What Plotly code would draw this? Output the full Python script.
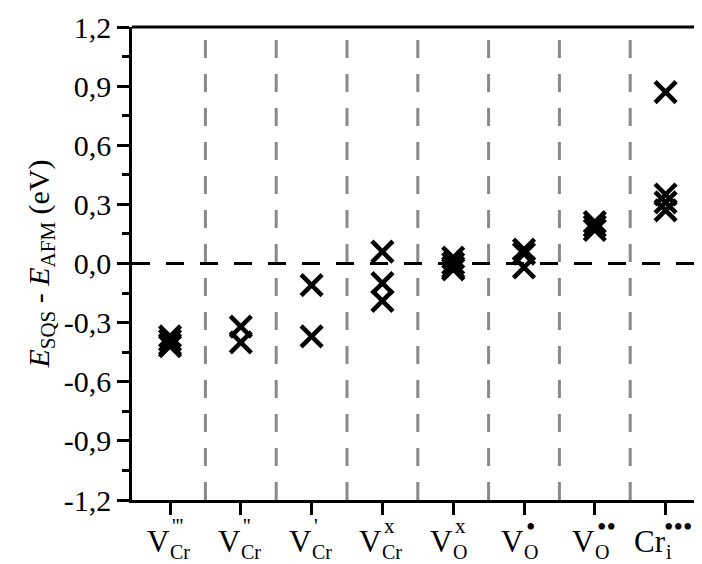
import plotly.graph_objects as go

# Data
categories = ["V_Cr'''", "V_Cr''", "V_Cr'", "V_Cr^x", "V_O^x", "V_O^•", "V_O^••", "Cr_i^•••"]
cat_base = ["V", "V", "V", "V", "V", "V", "V", "Cr"]
cat_sub = ["Cr", "Cr", "Cr", "Cr", "O", "O", "O", "i"]
cat_sup = ["'''", "''", "'", "x", "x", "•", "••", "•••"]
values = [
    [-0.37, -0.39, -0.41, -0.42],
    [-0.32, -0.40],
    [-0.11, -0.37],
    [0.06, -0.10, -0.19],
    [0.03, 0.0, -0.02, -0.03],
    [0.07, 0.05, -0.02],
    [0.21, 0.19, 0.17],
    [0.87, 0.35, 0.31, 0.27],
]
y_ticks = [-1.2, -0.9, -0.6, -0.3, 0.0, 0.3, 0.6, 0.9, 1.2]
y_tick_text = ["-1,2", "-0,9", "-0,6", "-0,3", "0,0", "0,3", "0,6", "0,9", "1,2"]
y_minor = [-1.05, -0.75, -0.45, -0.15, 0.15, 0.45, 0.75, 1.05]

xs, ys = [], []
for i, vals in enumerate(values):
    for v in vals:
        xs.append(i)
        ys.append(v)

FONT = "Liberation Serif, Times New Roman, DejaVu Serif, serif"

fig = go.Figure()
fig.add_trace(go.Scatter(
    x=xs, y=ys, mode="markers",
    marker=dict(symbol="x-thin", size=21, line=dict(color="black", width=4.5), color="black"),
    showlegend=False, cliponaxis=False,
))

shapes = []
for i in range(len(categories) - 1):
    shapes.append(dict(type="line", xref="x", yref="paper", x0=i + 0.5, x1=i + 0.5, y0=0, y1=1,
                       line=dict(color="#888888", width=3, dash="18px,16px"), layer="below"))
shapes.append(dict(type="line", xref="paper", yref="y", x0=0, x1=1, y0=0, y1=0,
                   line=dict(color="black", width=3, dash="18px,16px"), layer="below"))
shapes.append(dict(type="line", xref="paper", yref="paper", x0=0, x1=1, y0=1, y1=1,
                   line=dict(color="black", width=3)))
shapes.append(dict(type="line", xref="paper", yref="paper", x0=1, x1=1, y0=0, y1=1,
                   line=dict(color="#666666", width=1)))

annotations = []
for i in range(len(categories)):
    annotations.append(dict(
        x=i, y=0, xref="x", yref="paper", yshift=-41, xshift=1,
        text=cat_base[i], showarrow=False, borderpad=0,
        font=dict(family=FONT, size=31, color="black"), xanchor="right", yanchor="middle"))
    annotations.append(dict(
        x=i, y=0, xref="x", yref="paper", yshift=-52, xshift=-1,
        text=cat_sub[i], showarrow=False, borderpad=0,
        font=dict(family=FONT, size=20, color="black"), xanchor="left", yanchor="middle"))
    is_dot = "•" in cat_sup[i]
    annotations.append(dict(
        x=i, y=0, xref="x", yref="paper", yshift=(-27 if is_dot else -26),
        xshift=(-3 if cat_base[i] == "Cr" else 1),
        text=cat_sup[i], showarrow=False, borderpad=0,
        font=dict(family=FONT, size=(27 if is_dot else 21), color="black"),
        xanchor="left", yanchor="middle"))

fig.update_layout(
    width=694, height=556,
    margin=dict(l=124, r=2, t=19, b=64),
    paper_bgcolor="white", plot_bgcolor="white",
    font=dict(family=FONT, size=30, color="black"),
    shapes=shapes, annotations=annotations,
    xaxis=dict(range=[-0.537, 7.486], tickvals=list(range(len(categories))),
               ticktext=[""] * len(categories), ticks="outside", ticklen=12, tickwidth=2.5,
               tickcolor="black", showline=True, linecolor="black", linewidth=2.5,
               showgrid=False, zeroline=False, automargin=False),
    yaxis=dict(range=[-1.2, 1.2], tickvals=y_ticks, ticktext=y_tick_text,
               ticks="outside", ticklen=12, tickwidth=2.5, tickcolor="black",
               minor=dict(ticks="outside", ticklen=7, tickwidth=2.5, tickcolor="black",
                          tickvals=y_minor),
               showline=True, linecolor="black", linewidth=2.5, showgrid=False, zeroline=False,
               automargin=False,
               tickfont=dict(family=FONT, size=30, color="black"),
               title=dict(text="<i>E</i><sub>SQS</sub> - <i>E</i><sub>AFM</sub> (eV)",
                          font=dict(family=FONT, size=30, color="black"), standoff=6)),
)

fig.write_html("out.html")
